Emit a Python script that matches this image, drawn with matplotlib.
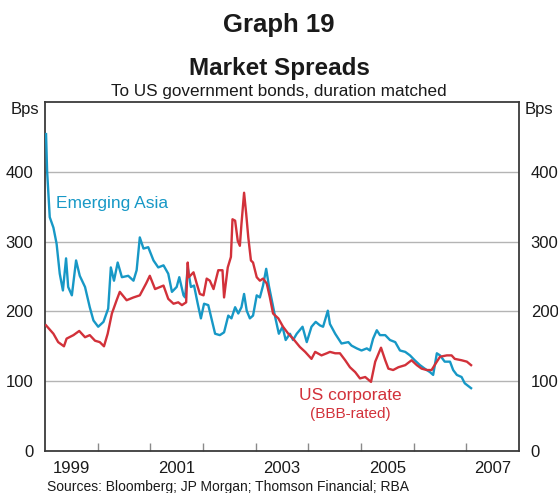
import matplotlib
matplotlib.use("Agg")
import matplotlib.pyplot as plt
import numpy as np

plt.rcParams['font.family'] = ['Liberation Sans', 'DejaVu Sans']

# ---- data (decimal years, basis points) ----
asia_t = [1999.02, 1999.04, 1999.09, 1999.16, 1999.22, 1999.28, 1999.34, 1999.40, 1999.44, 1999.51,
          1999.59, 1999.66, 1999.76, 1999.85, 1999.92, 2000.01, 2000.11, 2000.20, 2000.25, 2000.31,
          2000.38, 2000.46, 2000.58, 2000.68, 2000.74, 2000.80, 2000.87, 2000.96, 2001.06, 2001.15,
          2001.25, 2001.34, 2001.41, 2001.50, 2001.55, 2001.63, 2001.66, 2001.71, 2001.77, 2001.83,
          2001.90, 2001.96, 2002.02, 2002.10, 2002.16, 2002.23, 2002.32, 2002.40, 2002.48, 2002.54,
          2002.61, 2002.67, 2002.73, 2002.78, 2002.83, 2002.89, 2002.95, 2003.02, 2003.08, 2003.14,
          2003.20, 2003.25, 2003.32, 2003.37, 2003.44, 2003.51, 2003.57, 2003.65, 2003.71, 2003.78,
          2003.89, 2003.97, 2004.06, 2004.14, 2004.22, 2004.28, 2004.37, 2004.41, 2004.51, 2004.63,
          2004.76, 2004.82, 2004.92, 2005.01, 2005.11, 2005.17, 2005.23, 2005.30, 2005.36, 2005.46,
          2005.55, 2005.65, 2005.74, 2005.84, 2005.93, 2006.02, 2006.12, 2006.21, 2006.31, 2006.37,
          2006.44, 2006.50, 2006.59, 2006.69, 2006.75, 2006.82, 2006.91, 2006.97, 2007.09]
asia_v = [454, 401, 335, 320, 297, 254, 230, 276, 235, 223,
          273, 251, 235, 206, 187, 178, 185, 204, 263, 244,
          270, 249, 251, 244, 259, 306, 290, 292, 273, 263,
          266, 254, 228, 235, 249, 223, 220, 263, 235, 237,
          211, 190, 211, 209, 190, 168, 166, 170, 194, 190,
          206, 197, 206, 225, 201, 190, 194, 223, 220, 237,
          261, 237, 211, 192, 168, 178, 159, 168, 159, 168,
          178, 156, 178, 185, 180, 178, 201, 182, 168, 154,
          156, 151, 147, 144, 147, 144, 161, 173, 166, 166,
          159, 156, 144, 142, 137, 130, 123, 118, 113, 109,
          140, 137, 128, 128, 116, 109, 106, 97, 90]

us_t = [1999.02, 1999.16, 1999.25, 1999.36, 1999.41, 1999.54, 1999.65, 1999.76, 1999.85, 1999.95,
        2000.04, 2000.12, 2000.19, 2000.27, 2000.36, 2000.42, 2000.55, 2000.68, 2000.80, 2000.92,
        2000.99, 2001.09, 2001.25, 2001.34, 2001.44, 2001.53, 2001.60, 2001.68, 2001.71, 2001.73,
        2001.82, 2001.88, 2001.94, 2002.01, 2002.07, 2002.13, 2002.20, 2002.29, 2002.37, 2002.40,
        2002.47, 2002.53, 2002.56, 2002.61, 2002.66, 2002.70, 2002.73, 2002.78, 2002.82, 2002.86,
        2002.91, 2002.95, 2003.02, 2003.08, 2003.14, 2003.21, 2003.27, 2003.33, 2003.43, 2003.52,
        2003.62, 2003.71, 2003.84, 2003.94, 2004.06, 2004.13, 2004.25, 2004.35, 2004.41, 2004.51,
        2004.60, 2004.70, 2004.79, 2004.89, 2004.98, 2005.08, 2005.19, 2005.27, 2005.38, 2005.46,
        2005.52, 2005.61, 2005.71, 2005.84, 2005.96, 2006.06, 2006.15, 2006.25, 2006.34, 2006.44,
        2006.50, 2006.63, 2006.72, 2006.78, 2006.91, 2007.01, 2007.09]
us_v = [180, 168, 156, 150, 161, 166, 172, 163, 166, 158,
        156, 150, 168, 197, 216, 228, 216, 220, 223, 240,
        251, 232, 237, 218, 211, 213, 209, 213, 270, 249,
        256, 240, 225, 223, 247, 244, 232, 259, 259, 220,
        263, 278, 332, 330, 301, 294, 325, 370, 340, 306,
        273, 270, 249, 244, 247, 240, 220, 197, 190, 178,
        168, 161, 149, 142, 132, 142, 137, 140, 142, 140,
        140, 130, 120, 113, 104, 106, 99, 128, 148, 130,
        118, 116, 120, 123, 130, 123, 118, 116, 116, 128,
        135, 137, 137, 132, 130, 128, 123]

year_labels = ['1999', '2001', '2003', '2005', '2007']
y_ticks = [0, 100, 200, 300, 400]

BLUE = '#1798c6'
RED = '#d2313a'
GRID = '#b4b4b4'
SPINE = '#3a3a3a'
TXT = '#1a1a1a'

fig = plt.figure(figsize=(5.58, 4.93), dpi=100)
ax = fig.add_axes([45/558, 1-451/493, 474/558, 349/493])

ax.set_xlim(1999, 2008)
ax.set_ylim(0, 500)

for v in y_ticks[1:]:
    ax.axhline(v, color=GRID, lw=1.0, zorder=1)

ax.plot(asia_t, asia_v, color=BLUE, lw=1.7, zorder=3)
ax.plot(us_t, us_v, color=RED, lw=1.7, zorder=3)

for s in ax.spines.values():
    s.set_color(SPINE)
    s.set_linewidth(1.3)

# y axis labels on both sides, no tick marks
ax.set_yticks(y_ticks)
ax.set_yticklabels([str(v) for v in y_ticks])
ax.tick_params(axis='y', left=False, right=False, labelleft=True, labelright=True,
               labelsize=12, labelcolor=TXT, pad=5)
ax.text(-0.012, 1.0, 'Bps', transform=ax.transAxes, ha='right', va='top', fontsize=12, color=TXT)
ax.text(1.012, 1.0, 'Bps', transform=ax.transAxes, ha='left', va='top', fontsize=12, color=TXT)

# x axis: ticks at year boundaries, labels centred in year
ax.set_xticks(np.arange(2000, 2008))
ax.set_xticklabels([])
ax.tick_params(axis='x', which='major', direction='in', length=6, width=1.0, color='#8a8a8a')
ax.set_xticks([int(y) + 0.5 for y in year_labels], minor=True)
ax.set_xticklabels(year_labels, minor=True)
ax.tick_params(axis='x', which='minor', length=0, labelsize=12, labelcolor=TXT, pad=7)

# series labels
ax.text(1999.2, 355, 'Emerging Asia', color=BLUE, fontsize=12.5, ha='left', va='center')
ax.text(2004.8, 80, 'US corporate', color=RED, fontsize=12.5, ha='center', va='center')
ax.text(2004.8, 53, '(BBB-rated)', color=RED, fontsize=11, ha='center', va='center')

# titles
fig.text(0.5, 1-32/493, 'Graph 19', ha='center', va='baseline', fontsize=18.5, fontweight='bold', color=TXT)
fig.text(0.5, 1-75/493, 'Market Spreads', ha='center', va='baseline', fontsize=17.5, fontweight='bold', color=TXT)
fig.text(0.5, 1-96/493, 'To US government bonds, duration matched', ha='center', va='baseline',
         fontsize=12.3, color=TXT)
fig.text(47/558, 1-490.5/493, 'Sources: Bloomberg; JP Morgan; Thomson Financial; RBA', ha='left',
         va='baseline', fontsize=10, color=TXT)

fig.savefig('out.png', dpi=100)
